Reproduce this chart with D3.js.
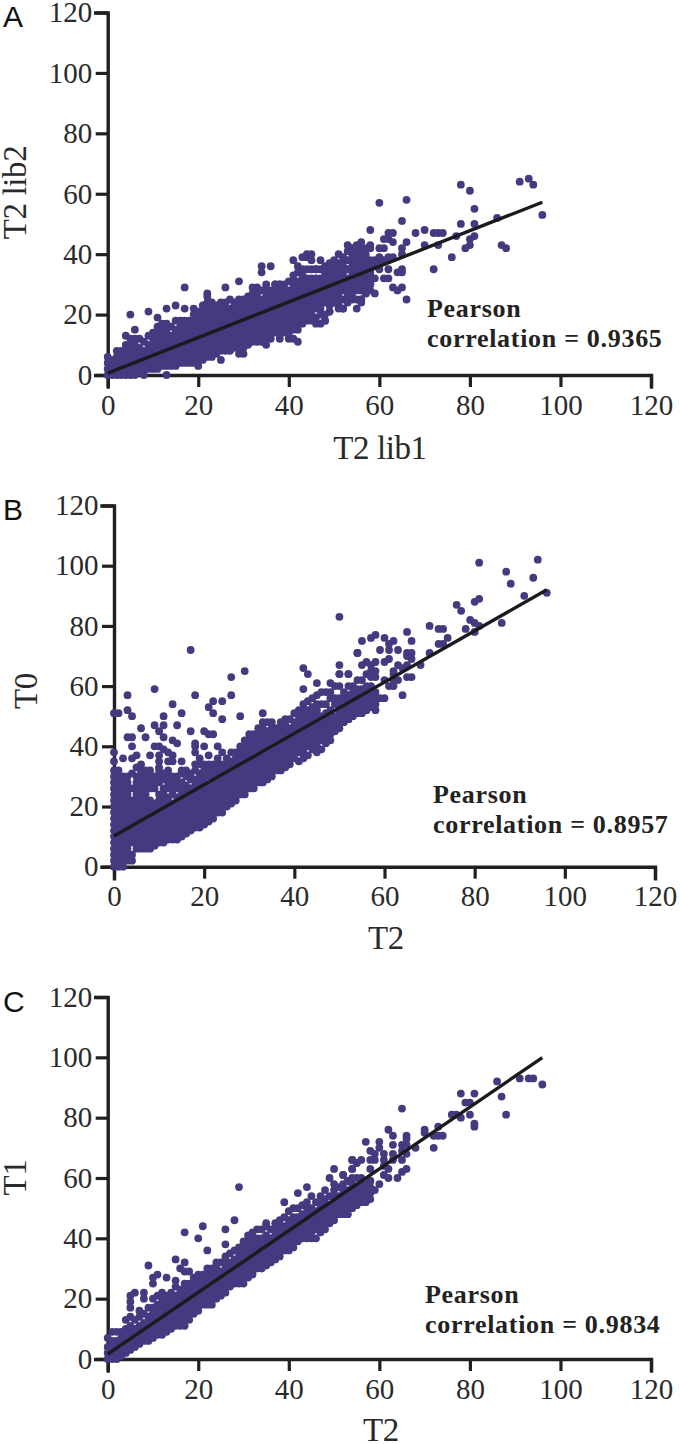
<!DOCTYPE html>
<html>
<head>
<meta charset="utf-8">
<script src="https://cdnjs.cloudflare.com/ajax/libs/d3/7.8.5/d3.min.js"></script>
<style>
  html, body { margin: 0; padding: 0; background: #fff; }
  svg { display: block; }
  .tick text { font-family: "Liberation Serif", serif; font-size: 29px; fill: #2a2a2a; }
</style>
</head>
<body>
<div id="chart"></div>
<script>
var tickValues = [0, 20, 40, 60, 80, 100, 120];

// panel A, [x, [y values at that x]]
var aColumns = [
  [0,[0,2,4,6]],[1,[0,2,4,5]],[2,[0,2,4,6,8]],[3,[0,2,4,6,8]],[4,[0,2,4,6,8,10,13]],
  [5,[0,2,4,6,8,10,12]],[6,[0,2,4,6,8,10,12]],[7,[1,3,5,7,9,12]],[8,[0,2,4,6,8,11]],
  [9,[2,4,6,8,10,13]],[10,[2,4,6,8,10,12,14]],[11,[2,4,6,8,10,12,14,16]],[12,[3,5,7,9,11,13,15,17]],
  [13,[0,3,5,7,9,11,13,15,17]],[14,[3,5,7,9,11,13,16]],[15,[3,5,7,9,11,13,15,18]],
  [16,[4,6,8,10,12,14,16,18]],[17,[4,6,8,10,12,14,16,18]],[18,[4,6,8,10,12,14,16,18]],
  [19,[4,6,8,10,12,14,16,18,20,22]],[20,[3,5,7,9,11,13,15,17,19,21]],[21,[5,7,9,11,13,15,17,19,21,23]],
  [22,[6,8,10,12,14,16,18,20,22,24,26]],[23,[6,8,10,12,14,16,18,20,22,24]],[24,[7,9,11,13,15,17,19,21,23]],
  [25,[5,8,10,12,14,16,18,20,22,24]],[26,[8,10,12,14,16,18,20,22,24]],[27,[8,10,12,14,16,18,20,22,25]],
  [28,[9,11,13,15,17,19,21,23,24]],[29,[7,9,11,13,15,17,19,21,23,25]],[30,[7,9,11,13,15,17,19,21,23,25]],
  [31,[10,12,14,16,18,20,22,24,26]],[32,[11,13,15,17,19,21,23,25,27]],[33,[11,13,15,17,19,21,23,25,27]],
  [34,[11,13,15,17,19,21,23,25,28]],[35,[10,12,14,16,18,20,22,24,26,28]],[36,[12,14,16,18,20,22,24,26,28]],
  [37,[14,16,18,20,22,24,26,28,30]],[38,[12,14,16,18,20,22,24,26,28,30]],[39,[14,16,18,20,22,24,26,28,30]],
  [40,[12,14,16,18,20,22,24,26,28,31]],[41,[12,15,17,19,21,23,25,27,29,31,33]],[42,[11,15,17,19,21,23,25,27,29,31,34,36]],
  [43,[17,19,21,23,25,27,29,31,33,35]],[44,[18,20,22,24,26,28,30,32,35]],[45,[18,20,22,24,26,28,30,32,35]],
  [46,[17,19,22,24,26,28,30,32,35]],[47,[17,20,22,24,26,28,30,32,35]],[48,[18,20,24,26,28,30,32,34,36]],
  [49,[21,23,25,27,29,31,33,35,37]],[50,[24,26,28,30,32,34,36,38]],[51,[22,25,27,29,31,33,35,37]],
  [52,[22,25,28,30,32,34,36,38]],[53,[24,26,28,30,32,35,38,41]],[54,[25,26,28,30,32,34,36,38,40,42]],
  [55,[22,25,28,30,32,34,36,38,40,42]],[56,[24,25,28,30,32,34,36,38,40,42]],[57,[27,29,30,32,34,36,38,40,42]],[58,[30,32,33,34,36,38]]
];
var aOutliers = [
  [5,20],[6,15],[9,21],[11,19],[13,22],[15,23],[17,22],[17,29],[22,27],[26,29],[29,31],[32,29],[33,29],[34,34],[34,36],[35,30],[36,36],
  [37,30],[38,30],[41,38],[43,39],[44,39],[44,40],[45,40],[45,38],[46,35],[47,38],[51,40],[52,39],[53,43],[56,44],[55,43],[58,43],[58,42],[58,48],[60,57],[66,58],
  [78,63],[80,61],[91,64],[93,65],[94,63],[96,53],[81,55],[86,52],[65,51],[78,50],[81,50],[68,47],[70,48],
  [72,47],[73,47],[74,47],[77,46],[81,46],[80,45],[66,44],[70,43],[73,43],[80,43],[79,42],[87,43],[88,42],
  [76,39],[72,35],[66,25],[65,42],[62,47],[63,47],[61,45],[62,45],[63,44],[60,42],[61,42],[65,40],[62,39],[63,39],
  [60,37],[61,38],[65,35],[64,34],[65,34],[62,35],[59,32],[58,31],[58,30],[61,32],[62,32],[63,29],[64,28],[65,29],
  [57,27],[59,27],[56,25],[52,22],[51,23],[59,36],[60,35],[58,28],[59,38],[60,39],[48,18],[49,21],[50,24]
];
var aLineX = [0, 96];
var aLineY = [0.6, 57.2];

// panel B
var bColumns = [
  [0,[0,2,4,6,8,10,12,14,16,18,20,22,24,26,28,30,32]],[1,[0,2,4,6,8,10,12,14,16,18,20,22,24,26,28,30,32]],
  [2,[0,2,4,6,8,10,12,14,16,18,20,22,24,26,28,30]],[3,[2,4,6,8,10,12,14,16,18,20,22,24,26,28,30]],
  [4,[2,4,8,10,12,14,16,18,20,22,26,31]],[5,[6,8,10,12,14,16,18,20,22,24,26,28,30,33]],[6,[6,8,10,12,14,16,18,20,22,24,26,28,30,32,34]],
  [7,[6,8,10,12,14,16,18,20,22,24,26,28,30,32]],[8,[6,8,10,12,14,16,18,20,22,26,28,30,32]],[9,[7,9,11,13,15,17,19,21,26,28,30]],
  [10,[8,10,12,14,16,18,20,22,24,28,30,32]],[11,[8,10,12,14,16,18,20,22,24,26,29,31]],[12,[9,11,13,15,17,19,21,23,26,28,30,32]],
  [13,[9,11,13,15,17,19,21,24,26,28,30]],[14,[9,11,13,15,17,19,21,23,26,28,30]],[15,[10,12,14,16,18,20,22,24,26,28,31,32]],
  [16,[11,13,15,17,19,21,23,25,27,30,32]],[17,[12,14,16,18,20,22,24,26,29,31]],[18,[13,15,17,19,21,23,25,27,29,32,34]],
  [19,[13,15,17,19,21,23,25,27,29,31,34,36]],[20,[14,16,18,20,22,24,26,28,30,32,34]],[21,[15,17,19,21,23,25,27,30,32,34]],
  [22,[16,18,20,22,24,26,28,30,32,34]],[23,[18,20,22,24,26,28,30,32,34]],[24,[18,20,22,24,26,28,30,32,34]],
  [25,[20,22,24,26,28,30,32,34,36]],[26,[21,23,25,27,29,31,33,35,38]],[27,[22,24,26,28,30,32,34,36,38]],
  [28,[24,26,28,30,32,34,36,38,40]],[29,[24,26,28,30,32,34,36,38,40,42]],[30,[26,28,30,32,34,36,38,40,42,44]],
  [31,[26,28,30,32,34,36,38,40,42,44]],[32,[28,30,32,34,36,38,40,42,44,46]],[33,[28,30,32,34,36,38,40,42,44,46,48]],
  [34,[29,31,33,35,37,39,41,43,45,48]],[35,[30,32,34,36,38,40,42,44,46,48]],[36,[32,34,36,38,40,42,44,46]],
  [37,[32,34,36,38,40,42,44,46,48]],[38,[33,35,37,39,41,43,45,47,49]],[39,[34,36,38,40,42,44,46,49]],
  [40,[36,38,40,42,44,46,48,51]],[41,[35,38,40,42,44,46,48,50,52]],[42,[36,38,40,42,44,46,48,50,52,54]],
  [43,[37,40,42,44,46,48,50,52,55]],[44,[39,41,43,45,47,49,51,53,56]],[45,[38,40,42,44,46,48,50,52,54,57]],
  [46,[39,42,44,46,48,50,54,58]],[47,[41,43,45,47,49,51,54,58]],[48,[42,44,46,48,50,52,56,58]],
  [49,[45,47,48,50,54,56,60]],[50,[46,48,50,52,54,56,60]],[51,[48,50,52,54,56,58]],
  [52,[49,51,53,55,57,60]],[53,[50,52,54,56,58,60]],[54,[51,53,55,57,59,62]],[55,[51,53,55,57,59,62]],
  [56,[52,54,56,58,60]],[57,[53,55,57,60]],[58,[54,56,58]]
];
var bOutliers = [
  [17,72],[29,65],[26,63],[9,59],[3,57],[18,57],[26,57],[22,55],[24,55],[13,54],[21,53],[0,51],[1,51],[3,52],[4,50],
  [15,51],[22,51],[33,51],[11,50],[24,49],[28,50],[6,46],[9,47],[11,47],[14,47],[10,45],[17,45],[20,45],[21,44],[22,44],
  [3,43],[4,43],[7,43],[11,43],[13,42],[14,41],[4,40],[9,40],[10,40],[11,39],[12,38],[13,37],[18,41],[18,40],[18,38],
  [20,40],[23,40],[0,38],[0,35],[2,36],[4,36],[5,37],[8,37],[10,37],[10,35],[10,33],[12,35],[13,35],[15,35],[21,37],
  [23,36],[24,38],[42,66],[43,64],[42,59],[45,61],[48,61],[50,67],[50,64],[52,64],[54,71],[55,75],
  [81,101],[94,102],[87,98],[93,96],[88,94],[91,90],[96,91],[81,89],[80,88],[76,87],[77,85],[79,82],[80,81],[70,80],
  [72,79],[73,79],[78,79],[80,78],[81,80],[86,81],[74,76],[72,74],[73,74],[65,78],[66,75],[70,71],[68,67],[50,83],
  [58,77],[57,76],[62,75],[60,76],[61,74],[61,72],[59,72],[63,72],[54,71],[65,71],[66,71],[65,70],[66,69],[61,69],[60,68],
  [56,68],[55,67],[58,68],[57,67],[63,67],[64,66],[65,67],[50,64],[52,64],[56,64],[57,65],[58,65],[58,63],[57,63],
  [62,65],[62,64],[65,63],[66,63],[60,62],[63,62],[62,62],[61,60],[62,60],[64,57],[59,56],[60,56],[58,52],[52,49]
];
var bLineX = [0, 96];
var bLineY = [10.2, 92];

// panel C
var cColumns = [
  [0,[0,2,4,7]],[1,[0,2,4,6,9]],[2,[0,2,4,6,9]],[3,[1,3,5,7,9]],[4,[2,4,6,8,10,13]],[5,[3,5,7,9,11,14]],
  [6,[4,6,8,10,13]],[7,[5,7,9,11,14]],[8,[6,8,10,12,15]],[9,[6,8,10,12,14,17]],[10,[7,9,11,13,15,17,20]],
  [11,[8,10,12,14,16,18,21]],[12,[8,10,12,14,16,18,20,22]],[13,[9,11,13,15,17,19,21]],[14,[10,12,14,16,18,20,22]],
  [15,[11,13,15,17,19,21,24]],[16,[11,13,15,17,19,21,23]],[17,[11,13,15,17,19,21,23,25]],[18,[13,15,17,19,21,23,25]],
  [19,[15,17,19,21,23,25,27]],[20,[16,18,20,22,24,26,28]],[21,[18,20,22,24,26,28]],[22,[18,20,22,24,26,28,30]],
  [23,[18,20,22,24,26,28,30]],[24,[20,22,24,26,28,30,32]],[25,[21,23,25,27,29,32]],[26,[22,24,26,28,30,32,34]],
  [27,[24,26,28,30,32,35]],[28,[25,27,29,31,33,36]],[29,[25,27,29,31,33,35,37]],[30,[25,27,29,31,33,35,37,39]],
  [31,[27,29,31,33,35,37,39,41]],[32,[28,30,32,34,36,38,40,42]],[33,[30,32,34,36,38,40,43]],[34,[30,32,34,36,38,40,43]],
  [35,[31,33,35,37,39,41,44]],[36,[32,34,36,38,40,43]],[37,[33,35,37,39,41,43,45]],[38,[34,36,38,40,42,44,46]],
  [39,[36,38,40,42,44,47]],[40,[36,38,40,42,44,46,49]],[41,[37,39,41,43,45,47,50]],[42,[39,41,43,45,47,50]],
  [43,[40,42,44,46,48,51]],[44,[40,42,44,46,48,50,52]],[45,[40,42,44,46,48,50,54]],[46,[40,43,45,47,49,52]],
  [47,[42,44,46,48,50,52,54]],[48,[43,45,47,49,51,53]],[49,[45,47,49,51,54]],[50,[46,48,50,52,54,56]],
  [51,[48,50,52,54,57]],[52,[48,50,52,54,56,58]],[53,[48,50,52,54,56,59]],[54,[50,52,54,56,58,60]],
  [55,[51,53,55,57,60]],[56,[52,54,56,58,60]],[57,[52,54,56,58]],[58,[53,55,57,59]]
];
var cOutliers = [
  [29,57],[28,46],[26,43],[21,44],[17,42],[20,40],[26,38],[22,36],[15,33],[17,32],[9,31],[11,28],[10,27],[13,27],
  [16,30],[17,29],[18,29],[15,26],[10,25],[6,22],[5,21],[8,22],[8,20],[5,19],[5,17],[7,16],[39,52],[42,55],[44,57],
  [48,56],[50,63],[49,60],[50,58],[52,61],[54,66],[55,65],[54,63],[35,45],
  [86,92],[91,93],[93,93],[94,93],[96,91],[87,87],[88,81],[78,88],[81,88],[79,85],[80,85],[76,81],[77,81],[78,80],
  [80,81],[81,78],[81,77],[65,83],[62,76],[63,74],[70,76],[70,75],[73,77],[72,74],[73,74],[74,74],[66,74],[66,73],
  [60,72],[60,70],[57,72],[63,71],[65,71],[66,71],[68,70],[72,70],[58,69],[59,68],[61,68],[63,68],[66,68],[65,69],
  [54,66],[56,66],[58,66],[59,66],[61,66],[63,66],[65,66],[55,65],[61,64],[62,63],[66,63],[65,62],[54,63],[58,63],
  [52,61],[61,61],[62,60],[64,60],[60,58],[58,59],[59,56],[53,48],[51,48]
];
var cLineX = [0, 96];
var cLineY = [1.6, 99.9];

var panelLetters = ["A", "B", "C"];
var xTitles = ["T2 lib1", "T2", "T2"];
var yTitles = ["T2 lib2", "T0", "T1"];
var pearsonValues = ["0.9365", "0.8957", "0.9834"];

var axisColor = "#231f20", dotColor = "#453a80";

var svg = d3.select("#chart").append("svg")
    .attr("width", 680)
    .attr("height", 1444);

function flatten(columns, outliers) {
  var pts = [];
  columns.forEach(function(c) {
    c[1].forEach(function(y) { pts.push([c[0], y]); });
  });
  return pts.concat(outliers);
}

function drawPanel(p) {
  var x = d3.scaleLinear().domain([0, 120]).range(p.xRange);
  var y = d3.scaleLinear().domain([0, 120]).range(p.yRange);
  var g = svg.append("g");

  g.append("g")
      .attr("transform", "translate(0," + p.yRange[0] + ")")
      .call(d3.axisBottom(x).tickValues(tickValues).tickSize(12).tickPadding(7).tickFormat(d3.format("d")));
  g.append("g")
      .attr("transform", "translate(" + p.xRange[0] + ",0)")
      .call(d3.axisLeft(y).tickValues(tickValues).tickSize(12).tickPadding(3.5).tickFormat(d3.format("d")));
  g.selectAll(".domain").attr("stroke", axisColor).attr("stroke-width", 3.4).attr("stroke-linecap", "square");
  g.selectAll(".tick line").attr("stroke", axisColor).attr("stroke-width", 3.2);

  g.append("g").selectAll("circle")
      .data(flatten(p.columns, p.outliers))
    .enter().append("circle")
      .attr("cx", function(d) { return x(d[0]); })
      .attr("cy", function(d) { return y(d[1]); })
      .attr("r", 3.9)
      .attr("fill", dotColor);

  g.append("line")
      .attr("x1", x(p.lineX[0])).attr("y1", y(p.lineY[0]))
      .attr("x2", x(p.lineX[1])).attr("y2", y(p.lineY[1]))
      .attr("stroke", "#1c1a1c")
      .attr("stroke-width", 3.4);

  g.append("text")
      .attr("x", 3).attr("y", p.letterY)
      .attr("font-family", "Liberation Sans, sans-serif")
      .attr("font-size", 30)
      .attr("fill", "#111")
      .text(p.letter);

  g.append("text")
      .attr("x", p.xTitleX).attr("y", p.xTitleY)
      .attr("text-anchor", "middle")
      .attr("font-family", "Liberation Serif, serif")
      .attr("font-size", 33)
      .attr("letter-spacing", -0.4)
      .attr("fill", "#2a2a2a")
      .text(p.xTitle);

  g.append("text")
      .attr("transform", "translate(" + p.yTitleX + "," + p.yTitleY + ") rotate(-90)")
      .attr("text-anchor", "middle")
      .attr("font-family", "Liberation Serif, serif")
      .attr("font-size", 33)
      .attr("letter-spacing", -0.4)
      .attr("fill", "#2a2a2a")
      .text(p.yTitle);

  var note = g.append("g")
      .attr("font-family", "Liberation Serif, serif")
      .attr("font-weight", "bold")
      .attr("font-size", 26)
      .attr("letter-spacing", 0.7)
      .attr("fill", "#222");
  note.append("text").attr("x", p.noteX).attr("y", p.noteY).text("Pearson");
  note.append("text").attr("x", p.noteX).attr("y", p.noteY + 30).text("correlation = " + p.pearson);
}

drawPanel({
  letter: panelLetters[0], letterY: 27, xTitle: xTitles[0], yTitle: yTitles[0], pearson: pearsonValues[0],
  columns: aColumns, outliers: aOutliers, lineX: aLineX, lineY: aLineY,
  xRange: [107.7, 651], yRange: [375, 12.5],
  xTitleX: 380, xTitleY: 459, yTitleX: 26, yTitleY: 192.5, noteX: 427, noteY: 317
});
drawPanel({
  letter: panelLetters[1], letterY: 520, xTitle: xTitles[1], yTitle: yTitles[1], pearson: pearsonValues[1],
  columns: bColumns, outliers: bOutliers, lineX: bLineX, lineY: bLineY,
  xRange: [114, 655], yRange: [866.7, 505.5],
  xTitleX: 386, xTitleY: 949, yTitleX: 37, yTitleY: 691, noteX: 433, noteY: 803
});
drawPanel({
  letter: panelLetters[2], letterY: 1012, xTitle: xTitles[2], yTitle: yTitles[2], pearson: pearsonValues[2],
  columns: cColumns, outliers: cOutliers, lineX: cLineX, lineY: cLineY,
  xRange: [107.7, 651], yRange: [1359, 997],
  xTitleX: 381, xTitleY: 1441, yTitleX: 26, yTitleY: 1177.5, noteX: 425, noteY: 1303
});
</script>
</body>
</html>
